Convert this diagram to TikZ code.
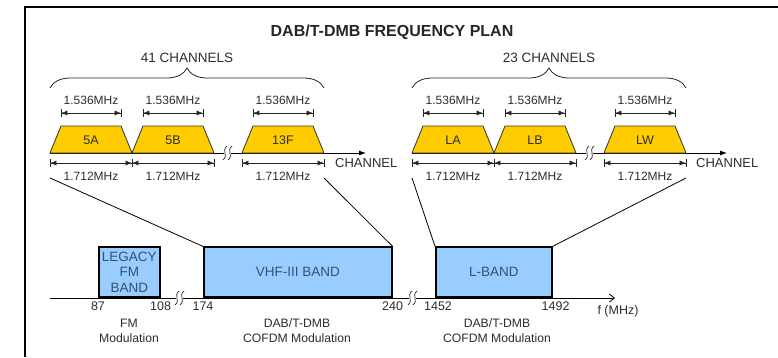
\documentclass[tikz,border=0pt]{standalone}
\usepackage{fontspec}
\setmainfont{Liberation Sans}
\usetikzlibrary{arrows.meta,positioning,decorations.pathreplacing}
\definecolor{chgold}{RGB}{255,204,0}
\definecolor{bandblue}{RGB}{153,204,255}
\definecolor{bandtext}{RGB}{50,82,115}
\definecolor{txtgray}{RGB}{45,45,45}
\begin{document}
\begin{tikzpicture}[x=1pt,y=-1pt, line join=miter,
	lbl/.style={font=\fontsize{12}{14}\selectfont,text=txtgray,inner sep=1pt},
	chan/.style={draw=black!80,fill=chgold,line width=0.8pt},
	chtext/.style={inner sep=0pt,font=\fontsize{12.5}{14}\selectfont,text=txtgray},
	band/.style={rectangle,draw=black,line width=1.6pt,fill=bandblue,minimum height=50pt,inner sep=0pt,anchor=south west,align=center,font=\fontsize{13.5}{15.5}\selectfont,text=bandtext},
	dim/.style={{Bar[width=8pt]Latex[length=6pt,width=5pt]}-{Latex[length=6pt,width=5pt]Bar[width=8pt]},black!85},
	axis/.style={black,line width=0.8pt},
	tick/.style={font=\fontsize{12.5}{14}\selectfont,text=txtgray,inner sep=1pt},
	brc/.style={decorate,decoration={brace,amplitude=20pt},black!85,line width=0.8pt}]
	\useasboundingbox (0,0) rectangle (778,357);
	\draw[line width=2pt] (25,357) -- (25,7) -- (778,7);
	\node[font=\bfseries\fontsize{16}{18}\selectfont,text=black!85] (title) at (392,32) {DAB/T-DMB FREQUENCY PLAN};
	\draw[axis] (50,153) -- (224,153);
	\draw[axis,-{Latex[length=7pt,width=5pt]}] (231,153) -- (366,153);
	\draw[axis] (412,153) -- (586,153);
	\draw[axis,-{Latex[length=7pt,width=5pt]}] (593,153) -- (727,153);
	\foreach \nm/\cx in {5A/50,5B/132,13F/242,LA/412,LB/494,LW/604}{
		\draw[chan] (\cx,153) -- (\cx+11,126) -- (\cx+71,126) -- (\cx+82,153) -- cycle;
		\node[chtext] (ch\nm) at (\cx+41,140) {\nm};
		\coordinate (lo\nm) at (\cx,178);
		\coordinate (ro\nm) at (\cx+82,178);
		\draw[dim] (\cx+11,113) -- (\cx+71,113) node[midway,yshift=13pt,lbl] {1.536MHz};
		\draw[dim] (\cx,163) -- (\cx+82,163) node[midway,yshift=-13pt,lbl] {1.712MHz};
	}
	\node[lbl,font=\fontsize{13}{15}\selectfont,anchor=west] (chl) at (334,163) {CHANNEL};
	\node[lbl,font=\fontsize{13}{15}\selectfont,anchor=west] (chr) at (695,163) {CHANNEL};
	\draw[brc] (50,88) -- (324,88) node[midway,yshift=30pt,lbl,font=\fontsize{13.5}{15}\selectfont] (nvhf) {41 CHANNELS};
	\draw[brc] (412,88) -- (686,88) node[midway,yshift=30pt,lbl,font=\fontsize{13.5}{15}\selectfont] (nl) {23 CHANNELS};
	\node[band,minimum width=61pt] (fm) at (98,298) {LEGACY\\FM\\BAND};
	\node[band,minimum width=188pt] (vhf) at (203,298) {VHF-III BAND};
	\node[band,minimum width=116pt] (lb) at (435,298) {L-BAND};
	\draw[axis] (50,298) -- (176,298);
	\draw[axis] (183,298) -- (409,298);
	\draw[axis,-{Straight Barb[length=5pt,width=8pt]}] (416,298) -- (615,298);
	\foreach \bx/\by in {225/153,230/153,587/153,592/153,177/298,182/298,410/298,415/298}
		\draw[black!85,line width=0.7pt] (\bx-2,\by+7) .. controls (\bx+4,\by+2) and (\bx-4,\by-2) .. (\bx+2,\by-7);
	\draw[axis] (lo5A) -- (vhf.north west);
	\draw[axis] (ro13F) -- (vhf.north east);
	\draw[axis] (loLA) -- (lb.north west);
	\draw[axis] (roLW) -- (lb.north east);
	\node[tick,below=3pt of fm.south west] (f87) {87};
	\node[tick,below=3pt of fm.south east] (f108) {108};
	\node[tick,below=3pt of vhf.south west] (f174) {174};
	\node[tick,below=3pt of vhf.south east] (f240) {240};
	\node[tick,below=3pt of lb.south west,xshift=3pt] (f1452) {1452};
	\node[tick,below=3pt of lb.south east,xshift=3pt] (f1492) {1492};
	\node[tick] (funit) at (618,311) {f (MHz)};
	\node[tick,align=center,font=\fontsize{12.2}{15}\selectfont] (mfm) at (129,331) {FM\\Modulation};
	\node[tick,align=center,font=\fontsize{12.2}{15}\selectfont] (mvhf) at (297,331) {DAB/T-DMB\\COFDM Modulation};
	\node[tick,align=center,font=\fontsize{12.2}{15}\selectfont] (ml) at (497,331) {DAB/T-DMB\\COFDM Modulation};
\end{tikzpicture}
\end{document}
